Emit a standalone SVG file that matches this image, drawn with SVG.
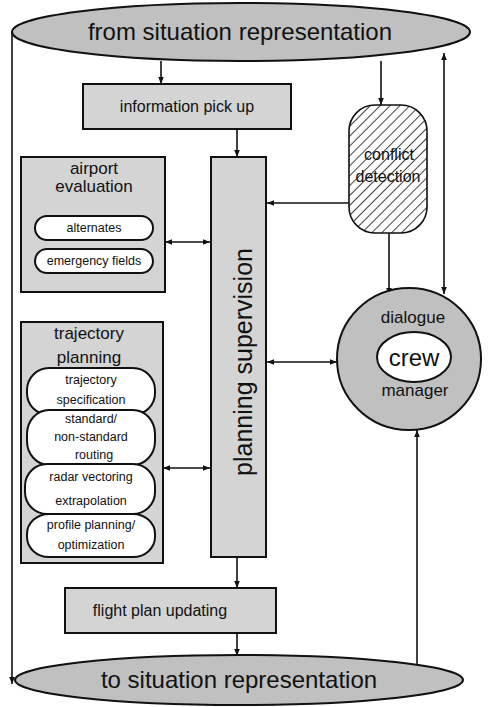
<svg xmlns="http://www.w3.org/2000/svg" width="490" height="707" viewBox="0 0 490 707">
  <defs>
    <style>
      text { font-family: "Liberation Sans", Arial, sans-serif; fill: #111; }
      .box { fill: #d4d4d4; stroke: #111; stroke-width: 2; }
      .ell { fill: #c0c0c0; stroke: #111; stroke-width: 2; }
      .pill { fill: #ffffff; stroke: #111; stroke-width: 2; }
      .conn { fill: none; stroke: #111; stroke-width: 1.6; }
      .big { font-size: 24px; text-anchor: middle; }
      .mid { font-size: 17px; text-anchor: middle; }
      .sm { font-size: 12.5px; text-anchor: middle; }
    </style>
    <marker id="ah" viewBox="0 0 10 10" refX="10" refY="5" markerWidth="7" markerHeight="7" orient="auto-start-reverse" markerUnits="userSpaceOnUse">
      <path d="M0,1 L10,5 L0,9 Z" fill="#111"/>
    </marker>
    <pattern id="hatch" patternUnits="userSpaceOnUse" width="7" height="7" patternTransform="rotate(45)">
      <rect width="7" height="7" fill="#fff"/>
      <line x1="0" y1="0" x2="0" y2="7" stroke="#111" stroke-width="1.6"/>
    </pattern>
  </defs>

  <g id="connectors">
    <path class="conn" d="M12,32 L12,684" marker-end="url(#ah)"/>
    <path class="conn" d="M161,61 L161,84" marker-end="url(#ah)"/>
    <path class="conn" d="M237,129 L237,157" marker-end="url(#ah)"/>
    <path class="conn" d="M381,61 L381,105" marker-end="url(#ah)"/>
    <path class="conn" d="M349,203 L267,203" marker-end="url(#ah)"/>
    <path class="conn" d="M389,233 L389,295" marker-end="url(#ah)"/>
    <path class="conn" d="M444,53 L444,294" marker-start="url(#ah)" marker-end="url(#ah)"/>
    <path class="conn" d="M165,242 L210,242" marker-start="url(#ah)" marker-end="url(#ah)"/>
    <path class="conn" d="M163,468 L210,468" marker-start="url(#ah)" marker-end="url(#ah)"/>
    <path class="conn" d="M267,362 L337,362" marker-start="url(#ah)" marker-end="url(#ah)"/>
    <path class="conn" d="M237,557 L237,588" marker-end="url(#ah)"/>
    <path class="conn" d="M237,633 L237,656" marker-end="url(#ah)"/>
    <path class="conn" d="M417,665 L417,430" marker-end="url(#ah)"/>
  </g>

  <g id="from-situation">
    <ellipse class="ell" cx="241" cy="32" rx="229" ry="29"/>
    <text class="big" x="240" y="40">from situation representation</text>
  </g>

  <g id="to-situation">
    <ellipse class="ell" cx="239" cy="680" rx="224" ry="25"/>
    <text class="big" x="239" y="688">to situation representation</text>
  </g>

  <g id="information-pick-up">
    <rect class="box" x="83" y="84" width="208" height="45"/>
    <text class="mid" x="187" y="112" style="font-size:16px">information pick up</text>
  </g>

  <g id="flight-plan-updating">
    <rect class="box" x="65" y="588" width="211" height="45"/>
    <text class="mid" x="160" y="616" style="font-size:16px">flight plan updating</text>
  </g>

  <g id="planning-supervision">
    <rect class="box" x="211" y="157" width="55" height="400"/>
    <text class="big" transform="translate(252,362) rotate(-90)" x="0" y="0" style="font-size:25px">planning supervision</text>
  </g>

  <g id="airport-evaluation">
    <rect class="box" x="21" y="157" width="144" height="135"/>
    <text class="mid" x="94" y="174">airport</text>
    <text class="mid" x="94" y="192">evaluation</text>
    <g id="alternates">
      <rect class="pill" x="35" y="216" width="118" height="24" rx="12" ry="12"/>
      <text class="sm" x="94" y="232">alternates</text>
    </g>
    <g id="emergency-fields">
      <rect class="pill" x="35" y="249" width="118" height="24" rx="12" ry="12"/>
      <text class="sm" x="94" y="265">emergency fields</text>
    </g>
  </g>

  <g id="trajectory-planning">
    <rect class="box" x="21" y="322" width="142" height="241"/>
    <text class="mid" x="89" y="339">trajectory</text>
    <text class="mid" x="89" y="363">planning</text>
    <g id="trajectory-specification">
      <rect class="pill" x="27" y="368" width="128" height="47" rx="22" ry="22"/>
      <text class="sm" x="91" y="384">trajectory</text>
      <text class="sm" x="91" y="404">specification</text>
    </g>
    <g id="standard-routing">
      <rect class="pill" x="27" y="410" width="128" height="55" rx="22" ry="24"/>
      <text class="sm" x="91" y="423">standard/</text>
      <text class="sm" x="91" y="441">non-standard</text>
      <text class="sm" x="94" y="459">routing</text>
    </g>
    <g id="radar-vectoring">
      <rect class="pill" x="25" y="464" width="130" height="50" rx="22" ry="22"/>
      <text class="sm" x="91" y="481">radar vectoring</text>
      <text class="sm" x="91" y="505">extrapolation</text>
    </g>
    <g id="profile-planning">
      <rect class="pill" x="27" y="514" width="128" height="43" rx="22" ry="20"/>
      <text class="sm" x="91" y="529">profile planning/</text>
      <text class="sm" x="91" y="549">optimization</text>
    </g>
  </g>

  <g id="conflict-detection">
    <rect x="349" y="105" width="78" height="128" rx="26" ry="26" fill="url(#hatch)" stroke="#111" stroke-width="1.6"/>
    <text class="mid" x="389" y="160" style="font-size:16px">conflict</text>
    <text class="mid" x="388" y="182" style="font-size:16px">detection</text>
  </g>

  <g id="dialogue-manager">
    <ellipse class="ell" cx="409" cy="359" rx="72" ry="71"/>
    <text class="mid" x="413" y="323">dialogue</text>
    <text class="mid" x="415" y="396">manager</text>
    <g id="crew">
      <ellipse cx="414" cy="357" rx="37" ry="25" fill="#fff" stroke="#111" stroke-width="2"/>
      <text class="big" x="414" y="366">crew</text>
    </g>
  </g>
</svg>
